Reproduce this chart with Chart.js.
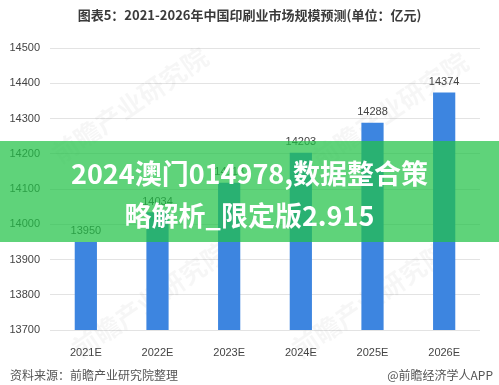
<!DOCTYPE html>
<html>
<head>
<meta charset="utf-8">
<script src="https://cdn.jsdelivr.net/npm/chart.js@4/dist/chart.umd.min.js"></script>
<style>
  html, body { margin: 0; padding: 0; background: #fff; }
  #wrap { position: relative; width: 499px; height: 385px; overflow: hidden; font-family: "Noto Sans CJK SC", "Noto Sans", sans-serif; }
  #title { position: absolute; top: 5px; left: 0; width: 499px; text-align: center; font-size: 13px; font-weight: bold; color: #3a3a3a; }
  #banner { position: absolute; top: 141px; left: 0; width: 499px; height: 101px; background: rgba(33,194,70,0.72);
    color: #fff; font-weight: bold; font-size: 27px; line-height: 42px; text-align: center; box-sizing: border-box; padding-top: 11px; }
  .foot { position: absolute; top: 366px; font-size: 12px; color: #555; }
</style>
</head>
<body>
<div id="wrap">
  <canvas id="chart" width="499" height="385"></canvas>
  <div id="title">图表5：2021-2026年中国印刷业市场规模预测(单位：亿元)</div>
  <div id="banner">2024澳门014978,数据整合策<br>略解析_限定版2.915</div>
  <div class="foot" style="left:10px">资料来源：前瞻产业研究院整理</div>
  <div class="foot" style="right:6px">@前瞻经济学人APP</div>
</div>
<script>
var years = ['2021E', '2022E', '2023E', '2024E', '2025E', '2026E'];
var scale = [13950, 14034, 14118, 14203, 14288, 14374];

// faint watermark of the source
const watermark = {
    id: 'watermark',
    beforeDatasetsDraw(chart) {
        const ctx = chart.ctx;
        ctx.save();
        ctx.fillStyle = 'rgba(0,0,0,0.035)';
        ctx.font = 'bold 26px "Noto Sans CJK SC"';
        ctx.textAlign = 'center';
        ctx.textBaseline = 'middle';
        [[130, 105], [390, 110], [150, 300], [370, 300]].forEach(p => {
            ctx.save();
            ctx.translate(p[0], p[1]);
            ctx.rotate(-0.6);
            ctx.fillText('前瞻产业研究院', 0, 0);
            ctx.restore();
        });
        ctx.restore();
    }
};

const valueLabels = {
    id: 'valueLabels',
    afterDatasetsDraw(chart) {
        const ctx = chart.ctx;
        const meta = chart.getDatasetMeta(0);
        ctx.save();
        ctx.fillStyle = '#444';
        ctx.font = '11px "Liberation Sans", sans-serif';
        ctx.textAlign = 'center';
        ctx.textBaseline = 'bottom';
        meta.data.forEach((bar, i) => {
            ctx.fillText(chart.data.datasets[0].data[i], bar.x, bar.y - 5);
        });
        ctx.restore();
    }
};

new Chart(document.getElementById('chart').getContext('2d'), {
    type: 'bar',
    data: {
        labels: years,
        datasets: [{
            data: scale,
            backgroundColor: '#3d85e0',
            categoryPercentage: 1,
            barPercentage: 0.31
        }]
    },
    options: {
        responsive: false,
        animation: false,
        layout: { padding: { top: 48, right: 19, bottom: 25, left: 0 } },
        plugins: { legend: { display: false }, tooltip: { enabled: false } },
        scales: {
            x: {
                grid: { display: false },
                border: { display: false },
                ticks: { color: '#444', font: { size: 11, family: '"Liberation Sans", sans-serif' }, padding: 8 },
                afterFit: s => { s.height = 30; }
            },
            y: {
                min: 13700,
                max: 14500,
                ticks: {
                    stepSize: 100, color: '#444', padding: 10,
                    font: { size: 11, family: '"Liberation Sans", sans-serif' },
                    callback: v => String(v)
                },
                grid: { color: '#e3e3e3', drawTicks: false },
                border: { display: false },
                afterFit: s => { s.width = 50; }
            }
        }
    },
    plugins: [watermark, valueLabels]
});
</script>
</body>
</html>
